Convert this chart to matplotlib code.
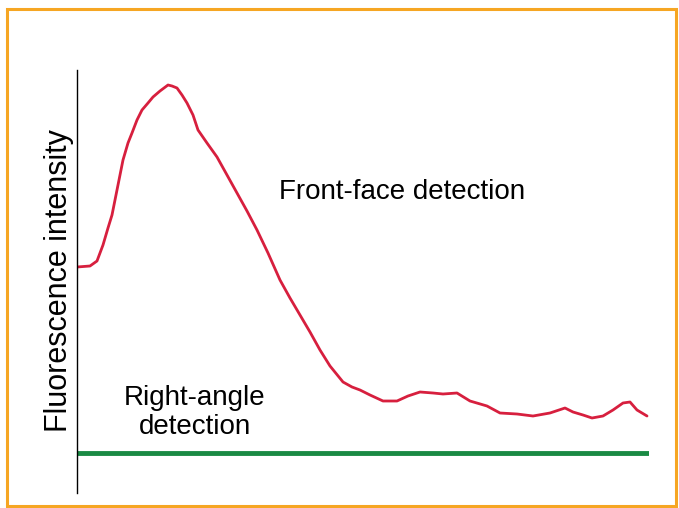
import matplotlib
matplotlib.use('Agg')
import matplotlib.pyplot as plt
import matplotlib.patches as mpatches

# front-face emission curve (x position, intensity)
x_pos = [0, 13, 20, 26, 31, 35, 41, 46, 51, 55, 60, 65, 71, 76, 83, 91, 95,
         100, 105, 110, 116, 121, 130, 140, 150, 160, 170, 180, 191, 203, 213,
         223, 233, 243, 253, 266, 275, 283, 293, 306, 320, 331, 343, 356, 366,
         380, 393, 410, 423, 440, 456, 473, 488, 496, 506, 515, 526, 536, 546,
         553, 560, 570]
front_face = [226, 227, 232, 248, 265, 278, 308, 333, 350, 360, 373, 383, 390,
              396, 402, 408, 407, 405, 398, 390, 378, 363, 350, 336, 318, 300,
              282, 263, 240, 213, 195, 178, 161, 143, 127, 111, 106, 103, 98,
              92, 92, 97, 101, 100, 99, 100, 92, 87, 80, 79, 77, 80, 85, 81,
              78, 75, 77, 83, 90, 91, 83, 77]
right_angle_x = [0, 572]
right_angle = [40, 40]

plt.rcParams['font.family'] = ['Liberation Sans', 'DejaVu Sans']

fig = plt.figure(figsize=(6.79, 5.08), dpi=100)
W, H = 679., 508.
ax = fig.add_axes([77 / W, 1 - 493 / H, (649 - 77) / W, (493 - 70) / H])
ax.set_xlim(0, 572)
ax.set_ylim(0, 423)

ax.plot(x_pos, front_face, color='#d71f3e', lw=2.0, solid_capstyle='round',
        solid_joinstyle='round')
ax.plot(right_angle_x, right_angle, color='#1a8a44', lw=3.5, solid_capstyle='butt')

for s in ['top', 'right', 'bottom']:
    ax.spines[s].set_visible(False)
ax.spines['left'].set_linewidth(1.0)
ax.set_xticks([])
ax.set_yticks([])

ax.text(325, 301, 'Front-face detection', fontsize=20, ha='center', va='center')
ax.text(118, 81, 'Right-angle\ndetection', fontsize=20, ha='center', va='center',
        linespacing=1.15)
fig.text(59 / W, 1 - 281 / H, 'Fluorescence intensity', fontsize=22,
         rotation=90, ha='center', va='center')

# orange frame round the figure
frame = mpatches.Rectangle((7 / W, 1 - 506 / H), (676 - 7) / W, (506 - 9) / H,
                           transform=fig.transFigure, fill=False,
                           edgecolor='#f6a623', lw=2.2)
fig.patches.append(frame)

fig.savefig('out.png', dpi=100)
